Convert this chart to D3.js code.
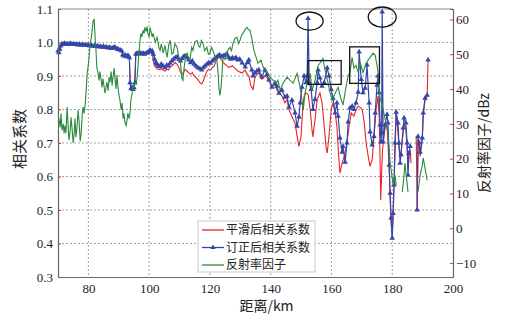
<!DOCTYPE html>
<html>
<head>
<meta charset="utf-8">
<script src="https://cdn.jsdelivr.net/npm/d3@7"></script>
<style>
  body { margin: 0; background: #fff; }
  .num { font-family: "Liberation Serif", "DejaVu Serif", serif; font-size: 13px; fill: #1c1c2c; }
  .cjk { font-family: "Noto Sans CJK SC", sans-serif; fill: #222; }
</style>
</head>
<body>
<div id="chart"></div>
<script>
// distance (km) / value pairs, null = gap
const smoothCorr = [[70.0,0.975],[70.9,0.99],[71.3,0.996],[72.1,0.997],[73.0,0.996],[74.0,0.997],[75.0,0.996],[76.0,0.995],[77.0,0.995],[78.0,0.994],[79.0,0.993],[80.0,0.992],[81.0,0.991],[82.0,0.99],[83.0,0.99],[84.0,0.988],[85.0,0.988],[86.0,0.986],[87.0,0.985],[88.0,0.983],[89.0,0.984],[90.0,0.979],[91.0,0.975],[91.3,0.963],[92.1,0.962],[93.2,0.96],[93.5,0.955],[93.7,0.88],[94.0,0.862],[94.7,0.86],[95.3,0.88],[95.6,0.965],[96.5,0.966],[97.5,0.966],[98.5,0.965],[99.5,0.97],[100.3,0.975],[100.7,0.97],[101.0,0.965],[101.4,0.945],[101.8,0.93],[102.2,0.925],[102.6,0.922],[103.0,0.92],[103.5,0.918],[104.0,0.922],[104.6,0.918],[105.2,0.915],[105.8,0.92],[106.4,0.918],[106.9,0.928],[107.5,0.93],[108.0,0.935],[108.6,0.94],[109.2,0.935],[109.8,0.925],[110.3,0.912],[110.8,0.905],[111.3,0.91],[111.8,0.92],[112.4,0.915],[113.0,0.91],[113.6,0.905],[114.2,0.91],[114.8,0.9],[115.4,0.895],[116.0,0.89],[116.7,0.88],[117.3,0.876],[117.8,0.885],[118.4,0.9],[119.0,0.915],[119.6,0.92],[120.2,0.918],[120.8,0.925],[121.4,0.93],[122.0,0.945],[122.6,0.955],[123.2,0.957],[123.8,0.948],[124.4,0.94],[125.0,0.935],[125.6,0.93],[126.2,0.925],[126.8,0.928],[127.4,0.93],[128.0,0.925],[128.6,0.92],[129.2,0.915],[129.8,0.912],[130.6,0.909],[131.6,0.918],[132.3,0.905],[132.8,0.9],[133.5,0.87],[134.2,0.86],[134.8,0.895],[135.5,0.905],[136.1,0.91],[137.1,0.89],[138.1,0.9],[138.8,0.895],[139.4,0.89],[140.4,0.87],[141.4,0.875],[142.0,0.86],[142.7,0.85],[143.7,0.84],[144.7,0.82],[145.4,0.83],[146.0,0.8],[147.0,0.778],[148.0,0.76],[148.7,0.72],[149.3,0.69],[150.0,0.72],[150.5,0.8],[151.0,0.84],[151.6,0.85],[152.3,0.845],[153.0,0.8],[153.6,0.74],[153.9,0.718],[154.6,0.77],[155.3,0.83],[156.2,0.85],[156.9,0.82],[157.6,0.75],[158.2,0.69],[158.6,0.67],[159.2,0.72],[159.9,0.8],[160.5,0.82],[161.2,0.79],[161.8,0.75],[162.3,0.67],[162.8,0.61],[163.5,0.64],[164.2,0.66],[165.1,0.7],[165.8,0.75],[166.5,0.79],[167.4,0.78],[168.1,0.8],[168.8,0.81],[169.4,0.807],[170.1,0.8],[170.8,0.76],[171.4,0.7],[172.1,0.66],[172.7,0.63],[173.4,0.65],[174.0,0.72],[174.7,0.8],[175.3,0.84],[175.7,0.78],[176.0,0.65],[176.2,0.53],[176.8,0.68],[177.3,0.72],[177.9,0.76],[178.3,0.75],[178.6,0.7],[179.0,0.62],[179.3,0.54],[179.6,0.47],[180.0,0.42],[180.3,0.49],[180.6,0.58],[181.0,0.7],[181.3,0.79],[181.6,0.77],[181.9,0.73],[182.2,0.69],[182.6,0.66],[183.0,0.68],[183.6,0.73],[183.9,0.76],[184.5,0.74],[184.9,0.69],[185.2,0.62],[185.5,0.66],[185.9,0.68],[186.2,0.64],null,[187.9,0.72],[188.2,0.5],[188.5,0.71],[188.9,0.69],[189.2,0.66],[189.9,0.71],[190.2,0.78],[190.8,0.83],[191.5,0.84],[191.8,0.948]]

const correctedCorr = [[70.0,0.975],[70.3,0.97],[70.6,0.98],[70.9,0.99],[71.3,0.996],[71.7,0.994],[72.1,0.997],[72.5,0.995],[73.0,0.996],[73.5,0.994],[74.0,0.997],[74.5,0.995],[75.0,0.996],[75.5,0.994],[76.0,0.995],[76.5,0.993],[77.0,0.995],[77.5,0.992],[78.0,0.994],[78.5,0.992],[79.0,0.993],[79.5,0.991],[80.0,0.992],[80.5,0.99],[81.0,0.991],[81.5,0.989],[82.0,0.99],[82.5,0.988],[83.0,0.99],[83.5,0.987],[84.0,0.988],[84.5,0.986],[85.0,0.988],[85.5,0.985],[86.0,0.986],[86.5,0.984],[87.0,0.985],[87.5,0.982],[88.0,0.983],[88.5,0.986],[89.0,0.984],[89.5,0.98],[90.0,0.979],[90.5,0.977],[91.0,0.975],[91.3,0.963],[91.7,0.96],[92.1,0.962],[92.5,0.958],[92.9,0.961],[93.2,0.96],[93.5,0.955],[93.7,0.88],[94.0,0.862],[94.3,0.866],[94.7,0.86],[95.0,0.865],[95.3,0.88],[95.6,0.965],[96.0,0.968],[96.5,0.966],[97.0,0.969],[97.5,0.966],[98.0,0.968],[98.5,0.965],[99.0,0.968],[99.5,0.97],[100.0,0.974],[100.3,0.977],[100.7,0.972],[101.0,0.975],[101.4,0.965],[101.8,0.95],[102.2,0.94],[102.6,0.935],[103.0,0.93],[103.5,0.928],[104.0,0.935],[104.6,0.93],[105.2,0.925],[105.8,0.932],[106.4,0.93],[106.9,0.938],[107.5,0.945],[108.0,0.95],[108.6,0.955],[109.2,0.957],[109.8,0.95],[110.3,0.945],[110.8,0.952],[111.3,0.958],[111.8,0.96],[112.4,0.955],[113.0,0.948],[113.6,0.94],[114.2,0.945],[114.8,0.935],[115.4,0.93],[116.0,0.925],[116.7,0.922],[117.3,0.918],[117.8,0.925],[118.4,0.93],[119.0,0.935],[119.6,0.94],[120.2,0.938],[120.8,0.945],[121.4,0.95],[122.0,0.955],[122.6,0.96],[123.2,0.963],[123.8,0.958],[124.4,0.96],[125.0,0.962],[125.6,0.966],[126.2,0.955],[126.8,0.95],[127.4,0.955],[128.0,0.952],[128.6,0.955],[129.2,0.948],[129.8,0.95],[130.6,0.939],[131.6,0.927],[132.3,0.94],[132.8,0.948],[133.8,0.918],[134.2,0.9],[134.8,0.909],[135.5,0.915],[136.1,0.918],[137.1,0.897],[138.1,0.918],[138.8,0.905],[139.4,0.888],[140.4,0.867],[141.4,0.879],[142.0,0.87],[142.7,0.849],[143.7,0.858],[144.7,0.837],[145.4,0.84],[146.0,0.807],[147.0,0.828],[148.0,0.79],[148.7,0.75],[149.3,0.778],[149.7,0.82],[150.3,0.867],[151.0,0.9],[151.6,0.88],[152.0,0.9],[152.3,1.072],[152.7,0.88],[153.3,0.86],[153.9,0.8],[154.6,0.83],[155.3,0.88],[155.6,0.918],[156.2,0.894],[156.9,0.87],[157.6,0.88],[158.6,0.924],[159.2,0.9],[159.9,0.86],[160.5,0.834],[161.2,0.79],[161.8,0.82],[162.2,0.78],[162.8,0.715],[163.5,0.673],[163.8,0.69],[164.5,0.643],[165.1,0.7],[165.5,0.763],[166.1,0.805],[166.8,0.81],[167.4,0.8],[168.1,0.82],[168.8,0.852],[169.1,0.972],[169.8,0.89],[170.4,0.85],[171.1,0.864],[171.7,0.933],[172.4,0.82],[172.7,0.733],[173.4,0.694],[174.0,0.72],[174.4,0.79],[175.0,0.873],[175.3,0.9],[175.7,0.85],[176.0,0.754],[176.3,0.703],[176.5,0.73],[176.7,1.091],[177.0,0.703],[177.6,0.754],[178.3,0.785],[178.6,0.76],[179.0,0.634],[179.3,0.55],[179.6,0.476],[180.0,0.416],[180.3,0.49],[180.6,0.575],[180.9,0.7],[181.3,0.792],[181.9,0.76],[182.2,0.7],[182.6,0.64],[182.9,0.665],[183.6,0.745],[183.9,0.775],[184.5,0.76],[184.9,0.7],[185.2,0.604],[185.5,0.67],[185.9,0.69],null,[188.2,0.5],[188.5,0.72],[188.9,0.7],[189.2,0.673],[189.9,0.715],[190.2,0.79],[190.8,0.834],[191.5,0.843],null,[191.8,0.948]]

const reflectivity = [[70.3,31.6],[70.7,29.0],[71.0,33.0],[71.3,28.2],[71.7,30.0],[72.0,27.3],[72.3,29.5],[72.6,27.3],[73.0,34.8],[73.3,30.0],[73.6,25.3],[74.0,28.0],[74.3,31.9],[74.6,29.0],[75.0,24.5],[75.3,27.0],[75.6,31.5],[75.9,26.2],[76.3,29.5],[76.6,33.9],[77.0,30.0],[77.3,25.0],[77.6,27.0],[78.0,33.0],[78.3,34.8],[78.6,33.0],[79.0,36.0],[79.3,40.0],[79.6,44.5],[80.0,47.0],[80.3,50.0],[80.6,53.1],[81.0,55.0],[81.3,57.5],[81.6,59.7],[81.9,60.0],[82.2,55.0],[82.5,51.1],[82.8,46.0],[83.2,44.5],[83.5,42.5],[83.8,45.0],[84.2,42.5],[84.5,40.5],[84.8,43.0],[85.1,41.0],[85.5,38.8],[85.8,40.5],[86.1,42.0],[86.5,39.5],[86.8,43.4],[87.1,42.0],[87.5,45.0],[87.8,41.0],[88.1,43.4],[88.5,46.0],[88.8,42.5],[89.1,40.0],[89.4,44.0],[89.7,41.0],[90.1,38.0],[90.4,36.8],[90.8,34.0],[91.1,36.0],[91.4,31.5],[91.7,33.0],[92.1,30.2],[92.4,29.5],[92.7,31.0],[93.0,33.1],[93.4,31.5],[93.7,33.1],[94.0,37.0],[94.4,38.8],[94.7,41.0],[95.0,40.5],[95.4,42.0],[95.7,41.5],[96.0,43.0],[96.3,46.3],[96.6,50.0],[97.0,54.0],[97.3,56.0],[97.6,55.0],[98.0,56.9],[98.3,56.0],[98.6,57.7],[99.0,56.5],[99.3,58.0],[99.6,56.0],[100.0,54.9],[100.3,57.7],[101.0,55.0],[101.3,56.0],[102.0,53.5],[102.6,54.9],[103.2,52.0],[103.6,51.1],[104.0,53.0],[104.6,50.3],[105.2,52.5],[105.9,49.1],[106.5,53.0],[106.9,54.0],[107.5,50.0],[107.9,50.3],[108.5,53.0],[109.2,52.0],[109.8,49.0],[110.2,48.3],[110.8,43.0],[111.1,42.5],[111.5,46.0],[112.0,49.5],[112.5,50.3],[113.0,49.0],[113.4,48.3],[114.0,52.0],[114.4,51.1],[115.0,53.5],[115.8,54.0],[116.2,52.5],[116.7,52.0],[117.2,54.0],[117.7,53.1],[118.3,51.0],[119.0,52.0],[119.5,50.0],[120.0,50.3],[120.5,52.0],[121.0,51.1],[121.6,49.5],[122.3,48.3],[122.7,44.5],[123.0,40.0],[123.3,38.2],[123.7,41.0],[124.0,44.5],[124.3,49.1],[125.0,48.5],[125.6,50.3],[126.1,51.5],[126.6,52.0],[127.1,51.0],[127.6,53.1],[128.2,54.5],[128.9,54.9],[129.4,53.0],[129.9,54.0],[130.4,55.5],[130.9,56.0],[131.5,57.0],[132.2,57.7],[132.7,57.0],[133.2,56.9],[133.9,54.0],[134.5,51.1],[135.2,49.1],[135.8,47.4],[136.8,48.3],[137.5,46.3],[138.1,45.4],[139.1,44.5],[139.8,43.4],[140.8,42.5],[141.8,41.7],[142.4,42.5],[143.1,39.7],[144.1,41.7],[145.4,43.4],[146.4,42.5],[147.4,41.7],[148.7,44.5],[149.7,40.5],[150.3,36.8],[150.7,33.9],[151.3,38.8],[152.0,41.7],[153.0,44.5],[153.6,39.7],[154.6,42.5],[155.6,46.8],[156.2,47.4],[157.2,48.8],[157.9,45.4],[158.9,41.7],[159.5,39.1],[160.2,36.8],[161.2,38.8],[162.2,40.5],[162.8,38.2],[163.8,35.4],[164.5,39.1],[165.5,44.0],[166.1,44.8],[166.8,49.1],[167.4,46.0],[168.1,46.8],[168.8,44.8],[169.4,47.7],[170.4,44.8],[171.4,47.4],[172.7,49.1],[173.7,50.3],[174.4,49.7],[175.0,46.8],[175.3,44.8],[176.0,37.4],[176.7,35.4],[177.6,31.6],[178.6,27.6],[179.3,19.0],[180.0,14.4],[180.3,12.4],[180.6,14.4],[180.9,15.3],[181.3,12.4],null,[183.3,10.4],[183.9,15.3],[184.2,18.7],[184.5,16.1],[185.2,10.4],null,[188.5,10.4],[189.2,15.3],[189.9,18.1],[190.2,20.2],[190.8,17.3],[191.5,13.8]]

const xTicks = [80, 100, 120, 140, 160, 180, 200]
const yLeftTicks = [0.3, 0.4, 0.5, 0.6, 0.7, 0.8, 0.9, 1.0, 1.1]
const yRightTicks = [-10, 0, 10, 20, 30, 40, 50, 60]
const legendLabels = ["平滑后相关系数", "订正后相关系数", "反射率因子"]

// highlighted spots: ellipses [km, corr, halfKm, halfCorr], boxes [km0, km1, corr0, corr1]
const ellipseMarks = [[152.8, 1.064, 4.45, 0.027], [176.7, 1.076, 4.6, 0.03]]
const boxMarks = [[152.3, 163.2, 0.875, 0.946], [166.0, 175.8, 0.878, 0.987]]

const colors = { smooth: "#ea2228", corrected: "#3446a8", refl: "#2a8a3c" }

let dimensions = {
  width: 517,
  height: 316,
  margin: { top: 9, right: 64, bottom: 39, left: 58 },
}
dimensions.boundedWidth = dimensions.width - dimensions.margin.left - dimensions.margin.right
dimensions.boundedHeight = dimensions.height - dimensions.margin.top - dimensions.margin.bottom

const svg = d3.select("#chart").append("svg")
  .attr("width", dimensions.width)
  .attr("height", dimensions.height)

const bounds = svg.append("g")
  .attr("transform", `translate(${dimensions.margin.left},${dimensions.margin.top})`)

const xScale = d3.scaleLinear().domain([70, 200]).range([0, dimensions.boundedWidth])
const yScale = d3.scaleLinear().domain([0.3, 1.1]).range([dimensions.boundedHeight, 0])
const yRight = d3.scaleLinear().domain([-14, 63]).range([dimensions.boundedHeight, 0])

// grid
bounds.append("g").selectAll("line")
  .data(xTicks.filter(d => d < 200))
  .join("line")
    .attr("x1", d => xScale(d)).attr("x2", d => xScale(d))
    .attr("y1", 0).attr("y2", dimensions.boundedHeight)
    .attr("stroke", "#8a8a8a").attr("stroke-width", 0.8).attr("stroke-dasharray", "2,2")
bounds.append("g").selectAll("line")
  .data(yLeftTicks.filter(d => d > 0.3 && d < 1.1))
  .join("line")
    .attr("x1", 0).attr("x2", dimensions.boundedWidth)
    .attr("y1", d => yScale(d)).attr("y2", d => yScale(d))
    .attr("stroke", "#8a8a8a").attr("stroke-width", 0.8).attr("stroke-dasharray", "2,2")

// frame top
bounds.append("line")
  .attr("x1", 0).attr("x2", dimensions.boundedWidth).attr("y1", 0).attr("y2", 0)
  .attr("stroke", "#888").attr("stroke-width", 1)

// lines
const line = (yS) => d3.line()
  .defined(d => d !== null)
  .x(d => xScale(d[0]))
  .y(d => yS(d[1]))

bounds.append("path")
  .attr("d", line(yScale)(smoothCorr))
  .attr("fill", "none").attr("stroke", colors.smooth).attr("stroke-width", 1.1)

bounds.append("path")
  .attr("d", line(yScale)(correctedCorr))
  .attr("fill", "none").attr("stroke", colors.corrected).attr("stroke-width", 1.2)

bounds.append("g").selectAll("path")
  .data(correctedCorr.filter(d => d !== null))
  .join("path")
    .attr("d", d3.symbol(d3.symbolTriangle, 13))
    .attr("transform", d => `translate(${xScale(d[0])},${yScale(d[1])})`)
    .attr("fill", colors.corrected)

bounds.append("path")
  .attr("d", line(yRight)(reflectivity))
  .attr("fill", "none").attr("stroke", colors.refl).attr("stroke-width", 1.1)

// annotations
bounds.append("g").selectAll("ellipse")
  .data(ellipseMarks)
  .join("ellipse")
    .attr("cx", d => xScale(d[0]))
    .attr("cy", d => yScale(d[1]))
    .attr("rx", d => xScale(d[0] + d[2]) - xScale(d[0]))
    .attr("ry", d => yScale(d[1] - d[3]) - yScale(d[1]))
    .attr("fill", "none").attr("stroke", "#111").attr("stroke-width", 1.3)
bounds.append("g").selectAll("rect")
  .data(boxMarks)
  .join("rect")
    .attr("x", d => xScale(d[0]))
    .attr("y", d => yScale(d[3]))
    .attr("width", d => xScale(d[1]) - xScale(d[0]))
    .attr("height", d => yScale(d[2]) - yScale(d[3]))
    .attr("fill", "none").attr("stroke", "#111").attr("stroke-width", 1.3)

// axes
const yAxis = bounds.append("g")
  .call(d3.axisLeft(yScale).tickValues(yLeftTicks).tickFormat(d3.format(".1f")).tickSize(-3).tickPadding(5))
const y2Axis = bounds.append("g")
  .attr("transform", `translate(${dimensions.boundedWidth},0)`)
  .call(d3.axisRight(yRight).tickValues(yRightTicks).tickSize(-3).tickPadding(3))
const xAxis = bounds.append("g")
  .attr("transform", `translate(0,${dimensions.boundedHeight})`)
  .call(d3.axisBottom(xScale).tickValues(xTicks).tickSize(0).tickPadding(7))

for (const ax of [yAxis, y2Axis, xAxis]) {
  ax.select(".domain").attr("stroke", "#666").attr("stroke-width", 1.2)
  ax.selectAll(".tick line").attr("stroke", "#e83030")
  ax.selectAll("text").attr("class", "num").attr("fill", null)
}

// axis titles
bounds.append("text")
  .attr("class", "cjk")
  .attr("transform", `translate(${-33},${dimensions.boundedHeight / 2 - 4}) rotate(-90)`)
  .attr("text-anchor", "middle")
  .style("font-size", "15px")
  .text("相关系数")

bounds.append("text")
  .attr("class", "cjk")
  .attr("transform", `translate(${dimensions.boundedWidth + 36},${dimensions.boundedHeight / 2}) rotate(-90)`)
  .attr("text-anchor", "middle")
  .style("font-size", "14px")
  .text("反射率因子/dBz")

bounds.append("text")
  .attr("class", "cjk")
  .attr("x", dimensions.boundedWidth / 2 + 11)
  .attr("y", dimensions.boundedHeight + 34)
  .attr("text-anchor", "middle")
  .style("font-size", "14px")
  .text("距离/km")

// legend
const legend = bounds.append("g")
  .attr("transform", `translate(${198 - dimensions.margin.left},${221 - dimensions.margin.top})`)
legend.append("rect")
  .attr("width", 117).attr("height", 51)
  .attr("fill", "#fff").attr("stroke", "#c8c8c8").attr("stroke-width", 1)
const legendColors = [colors.smooth, colors.corrected, colors.refl]
legendLabels.forEach((label, i) => {
  const row = legend.append("g").attr("transform", `translate(0,${9 + i * 17.5})`)
  row.append("line")
    .attr("x1", 4).attr("x2", 26).attr("y1", 0).attr("y2", 0)
    .attr("stroke", legendColors[i]).attr("stroke-width", 1.3)
  if (i === 1) {
    row.append("path")
      .attr("d", d3.symbol(d3.symbolTriangle, 12))
      .attr("transform", "translate(15,0)")
      .attr("fill", legendColors[i])
  }
  row.append("text")
    .attr("class", "cjk")
    .attr("x", 28).attr("y", 0).attr("dy", "0.36em")
    .style("font-size", "12px")
    .text(label)
})
</script>
</body>
</html>
